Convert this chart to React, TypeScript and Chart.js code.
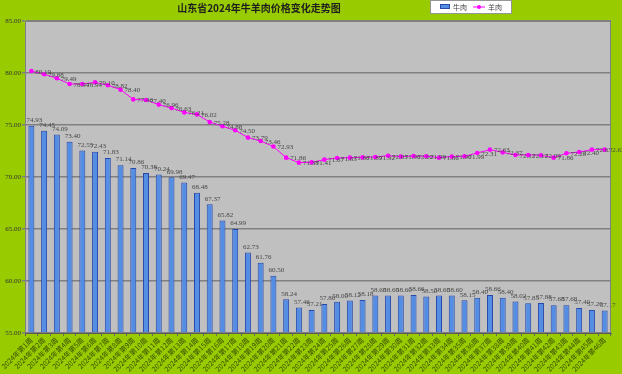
import React, { useEffect, useRef } from 'react';
import { Chart, registerables } from 'chart.js';

Chart.register(...registerables);

const TITLE = '山东省2024年牛羊肉价格变化走势图';
const BEEF_NAME = '牛肉';
const MUTTON_NAME = '羊肉';

const weeks = [
  '2024年第1周', '2024年第2周', '2024年第3周', '2024年第4周', '2024年第5周',
  '2024年第6周', '2024年第7周', '2024年第8周', '2024年第9周', '2024年第10周',
  '2024年第11周', '2024年第12周', '2024年第13周', '2024年第14周', '2024年第15周',
  '2024年第16周', '2024年第17周', '2024年第18周', '2024年第19周', '2024年第20周',
  '2024年第21周', '2024年第22周', '2024年第23周', '2024年第24周', '2024年第25周',
  '2024年第26周', '2024年第27周', '2024年第28周', '2024年第29周', '2024年第30周',
  '2024年第31周', '2024年第32周', '2024年第33周', '2024年第34周', '2024年第35周',
  '2024年第36周', '2024年第37周', '2024年第38周', '2024年第39周', '2024年第40周',
  '2024年第41周', '2024年第42周', '2024年第43周', '2024年第44周', '2024年第45周',
  '2024年第46周',
];

const beef = [
  74.93, 74.45, 74.09, 73.40, 72.55, 72.43, 71.83, 71.14, 70.86, 70.38,
  70.24, 69.98, 69.47, 68.48, 67.37, 65.82, 64.99, 62.73, 61.76, 60.50,
  58.24, 57.46, 57.21, 57.80, 58.00, 58.12, 58.18, 58.60, 58.60, 58.60,
  58.66, 58.50, 58.60, 58.60, 58.15, 58.40, 58.66, 58.40, 58.02, 57.85,
  57.88, 57.68, 57.68, 57.40, 57.20, 57.17,
];

const mutton = [
  80.19, 79.88, 79.49, 78.94, 78.94, 79.10, 78.82, 78.40, 77.46, 77.40,
  76.96, 76.63, 76.21, 76.02, 75.28, 74.88, 74.50, 73.79, 73.46, 72.93,
  71.86, 71.38, 71.41, 71.67, 71.83, 71.86, 71.89, 71.92, 72.05, 71.96,
  72.02, 71.99, 71.86, 71.96, 71.99, 72.31, 72.63, 72.37, 72.12, 72.12,
  72.09, 71.86, 72.28, 72.40, 72.63, 72.63,
];

const yTicks = [55, 60, 65, 70, 75, 80, 85];

const GREEN = 'rgb(153,204,0)';
const PLOT = 'rgb(192,192,192)';
const BAR_FILL = 'rgb(84,141,228)';
const BAR_BORDER = 'rgb(40,72,170)';
const MAGENTA = 'rgb(255,0,255)';

const decorPlugin = {
  id: 'decor',
  beforeDraw(chart: any) {
    const { ctx, chartArea: a } = chart;
    ctx.save();
    ctx.fillStyle = GREEN;
    ctx.fillRect(0, 0, chart.width, chart.height);
    ctx.fillStyle = PLOT;
    ctx.fillRect(a.left, a.top, a.right - a.left, a.bottom - a.top);
    ctx.restore();
  },
  afterDatasetsDraw(chart: any) {
    const { ctx } = chart;
    ctx.save();
    ctx.font = '7px "Liberation Serif"';
    ctx.fillStyle = 'rgb(70,70,70)';
    const barMeta = chart.getDatasetMeta(0);
    ctx.textAlign = 'center';
    ctx.textBaseline = 'bottom';
    barMeta.data.forEach((el: any, i: number) => {
      ctx.fillText(beef[i].toFixed(2), el.x + 3, el.y - 2);
    });
    const lineMeta = chart.getDatasetMeta(1);
    ctx.textAlign = 'left';
    ctx.textBaseline = 'middle';
    lineMeta.data.forEach((el: any, i: number) => {
      ctx.fillText(mutton[i].toFixed(2), el.x + 4, el.y + 1);
    });
    ctx.restore();
  },
  afterDraw(chart: any) {
    const { ctx, chartArea: a } = chart;
    ctx.save();
    // plot border
    ctx.strokeStyle = 'rgb(128,128,128)';
    ctx.lineWidth = 1;
    ctx.strokeRect(a.left + 0.5, a.top + 0.5, a.right - a.left - 1, a.bottom - a.top - 1);
    // title
    ctx.fillStyle = 'rgb(30,30,30)';
    ctx.font = 'bold 10px "Noto Sans CJK SC"';
    ctx.textAlign = 'center';
    ctx.textBaseline = 'middle';
    ctx.fillText(TITLE, 259, 8);
    // legend
    ctx.fillStyle = '#ffffff';
    ctx.fillRect(431, 0, 80, 13);
    ctx.strokeStyle = 'rgb(150,150,150)';
    ctx.strokeRect(430.5, 0.5, 81, 13);
    ctx.fillStyle = BAR_FILL;
    ctx.fillRect(440, 4, 10, 5);
    ctx.strokeStyle = BAR_BORDER;
    ctx.strokeRect(440.5, 4.5, 9, 4);
    ctx.strokeStyle = MAGENTA;
    ctx.beginPath();
    ctx.moveTo(473, 7);
    ctx.lineTo(485, 7);
    ctx.stroke();
    ctx.fillStyle = MAGENTA;
    ctx.beginPath();
    ctx.arc(479, 7, 2, 0, Math.PI * 2);
    ctx.fill();
    ctx.fillStyle = 'rgb(60,60,60)';
    ctx.font = '7px "Noto Sans CJK SC"';
    ctx.textAlign = 'left';
    ctx.fillText(BEEF_NAME, 453, 7);
    ctx.fillText(MUTTON_NAME, 488, 7);
    ctx.restore();
  },
};

export default function App() {
  const ref = useRef<HTMLCanvasElement | null>(null);
  useEffect(() => {
    if (!ref.current) return;
    const chart = new Chart(ref.current, {
      type: 'bar',
      data: {
        labels: weeks,
        datasets: [
          {
            type: 'bar',
            label: BEEF_NAME,
            data: beef,
            backgroundColor: BAR_FILL,
            borderColor: BAR_BORDER,
            borderWidth: 1,
            barPercentage: 0.47,
            categoryPercentage: 1,
            order: 2,
          },
          {
            type: 'line',
            label: MUTTON_NAME,
            data: mutton,
            borderColor: MAGENTA,
            backgroundColor: MAGENTA,
            borderWidth: 1,
            pointRadius: 2.3,
            pointBorderWidth: 0,
            pointStyle: 'circle',
            tension: 0,
            order: 1,
          },
        ],
      },
      options: {
        responsive: false,
        animation: false,
        layout: { padding: { left: 0, right: 11, top: 21, bottom: 0 } },
        plugins: {
          legend: { display: false },
          title: { display: false },
          tooltip: { enabled: false },
        },
        scales: {
          x: {
            grid: { drawOnChartArea: false, drawTicks: true, tickLength: 3, color: 'rgb(100,100,100)' },
            border: { display: true, color: 'rgb(90,90,90)', width: 1 },
            ticks: {
              autoSkip: false,
              maxRotation: 45,
              minRotation: 45,
              padding: 0,
              color: 'rgb(55,75,0)',
              font: { size: 7, family: '"Noto Sans CJK SC"' },
            },
            afterFit: (s: any) => { s.height = 41; },
          },
          y: {
            min: 55,
            max: 85,
            afterBuildTicks: (s: any) => { s.ticks = yTicks.map((v) => ({ value: v })); },
            grid: { color: 'rgb(128,128,128)', lineWidth: 1.5, tickLength: 3, drawTicks: true },
            border: { display: true, color: 'rgb(90,90,90)', width: 1 },
            ticks: {
              padding: 1,
              color: 'rgb(50,50,50)',
              font: { size: 7, family: '"Liberation Serif"' },
              callback: (v: any) => Number(v).toFixed(2),
            },
            afterFit: (s: any) => { s.width = 25; },
          },
        },
      },
      plugins: [decorPlugin],
    });
    return () => chart.destroy();
  }, []);
  return (
    <div style={{ position: 'fixed', left: 0, top: 0, width: 622, height: 374 }}>
      <canvas ref={ref} width={622} height={374} style={{ display: 'block', width: 622, height: 374 }} />
    </div>
  );
}
